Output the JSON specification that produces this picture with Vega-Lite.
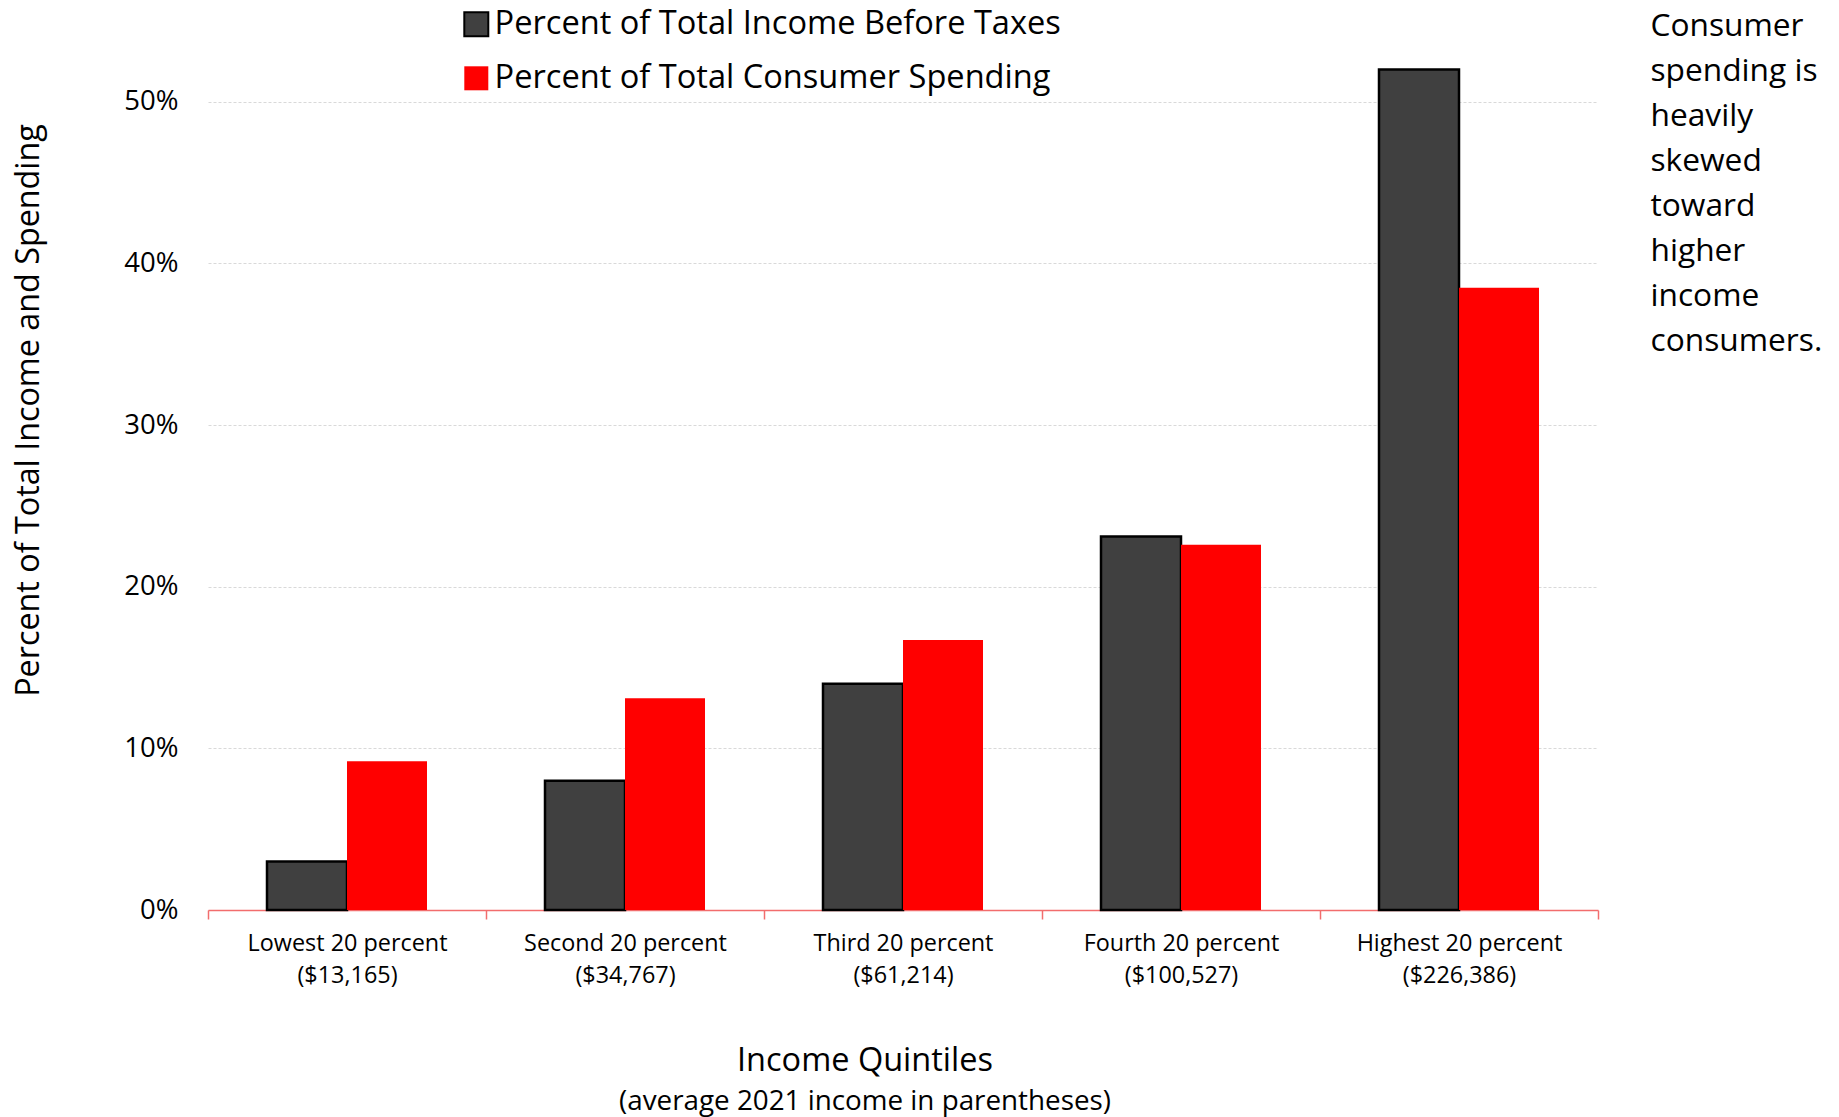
{
  "$schema": "https://vega.github.io/schema/vega-lite/v6.json",
  "autosize": {"type": "none"},
  "width": 1390,
  "height": 889,
  "padding": {"left": 208, "top": 21, "right": 241, "bottom": 207},
  "background": "white",
  "config": {
    "font": "Open Sans",
    "view": {"stroke": null}
  },
  "title": {
    "text": "Income Quintiles",
    "subtitle": "(average 2021 income in parentheses)",
    "orient": "bottom",
    "anchor": "middle",
    "frame": "group",
    "offset": 59,
    "dx": -38,
    "font": "Open Sans",
    "fontSize": 32.5,
    "fontWeight": "normal",
    "color": "#000000",
    "subtitleFont": "Open Sans",
    "subtitleFontSize": 27.8,
    "subtitleColor": "#000000",
    "subtitlePadding": 10
  },
  "data": {
    "values": [
      {"quintile": "Lowest 20 percent ($13,165)", "series": "Percent of Total Income Before Taxes", "share": 0.030},
      {"quintile": "Lowest 20 percent ($13,165)", "series": "Percent of Total Consumer Spending", "share": 0.092},
      {"quintile": "Second 20 percent ($34,767)", "series": "Percent of Total Income Before Taxes", "share": 0.080},
      {"quintile": "Second 20 percent ($34,767)", "series": "Percent of Total Consumer Spending", "share": 0.131},
      {"quintile": "Third 20 percent ($61,214)", "series": "Percent of Total Income Before Taxes", "share": 0.140},
      {"quintile": "Third 20 percent ($61,214)", "series": "Percent of Total Consumer Spending", "share": 0.167},
      {"quintile": "Fourth 20 percent ($100,527)", "series": "Percent of Total Income Before Taxes", "share": 0.231},
      {"quintile": "Fourth 20 percent ($100,527)", "series": "Percent of Total Consumer Spending", "share": 0.226},
      {"quintile": "Highest 20 percent ($226,386)", "series": "Percent of Total Income Before Taxes", "share": 0.520},
      {"quintile": "Highest 20 percent ($226,386)", "series": "Percent of Total Consumer Spending", "share": 0.385}
    ]
  },
  "mark": {"type": "bar", "strokeWidth": 2.5},
  "encoding": {
    "x": {
      "field": "quintile",
      "type": "nominal",
      "sort": null,
      "scale": {"paddingInner": 0, "paddingOuter": 0},
      "axis": {
        "title": ["Consumer", "spending is", "heavily", "skewed", "toward", "higher", "income", "consumers."],
        "titleX": 1442,
        "titleY": -900,
        "titleAlign": "left",
        "titleAnchor": "start",
        "titleBaseline": "top",
        "titleFont": "Open Sans",
        "titleFontSize": 31.7,
        "titleFontWeight": "normal",
        "titleLineHeight": 45,
        "titleColor": "#000000",
        "labelExpr": "split(replace(datum.label, ' (', '|('), '|')",
        "labelAngle": 0,
        "labelFont": "Open Sans",
        "labelFontSize": 23.4,
        "labelLineHeight": 32,
        "labelColor": "#000000",
        "labelPadding": 13,
        "labelLimit": 500,
        "tickBand": "extent",
        "ticks": true,
        "tickSize": 9,
        "tickColor": "#f26d6d",
        "tickWidth": 1.5,
        "domainColor": "#f26d6d",
        "domainWidth": 1.5,
        "grid": false
      }
    },
    "xOffset": {
      "field": "series",
      "type": "nominal",
      "sort": ["Percent of Total Income Before Taxes", "Percent of Total Consumer Spending"],
      "scale": {"paddingInner": 0, "paddingOuter": 0.7375}
    },
    "y": {
      "field": "share",
      "type": "quantitative",
      "scale": {"domain": [0, 0.55], "nice": false, "zero": true},
      "axis": {
        "values": [0, 0.1, 0.2, 0.3, 0.4, 0.5],
        "format": ".0%",
        "title": "Percent of Total Income and Spending",
        "titleAngle": -90,
        "titleX": -170,
        "titleY": 389,
        "titleAlign": "center",
        "titleBaseline": "alphabetic",
        "titleFont": "Open Sans",
        "titleFontSize": 32.3,
        "titleFontWeight": "normal",
        "titleColor": "#000000",
        "labelFont": "Open Sans",
        "labelFontSize": 27.5,
        "labelColor": "#000000",
        "labelPadding": 30,
        "domain": false,
        "ticks": false,
        "grid": true,
        "gridColor": "#d9d9d9",
        "gridDash": [3, 2],
        "gridWidth": 1
      }
    },
    "fill": {
      "field": "series",
      "type": "nominal",
      "scale": {
        "domain": ["Percent of Total Income Before Taxes", "Percent of Total Consumer Spending"],
        "range": ["#404040", "#ff0000"]
      },
      "legend": {
        "title": null,
        "orient": "none",
        "legendX": 252,
        "legendY": -13,
        "direction": "vertical",
        "symbolType": "square",
        "symbolSize": 576,
        "symbolStrokeWidth": 2,
        "labelFont": "Open Sans",
        "labelFontSize": 32.6,
        "labelColor": "#000000",
        "labelOffset": 2,
        "rowPadding": 21,
        "labelLimit": 1000
      }
    },
    "stroke": {
      "field": "series",
      "type": "nominal",
      "scale": {
        "domain": ["Percent of Total Income Before Taxes", "Percent of Total Consumer Spending"],
        "range": ["#000000", "transparent"]
      },
      "legend": {
        "title": null,
        "orient": "none",
        "legendX": 252,
        "legendY": -13,
        "direction": "vertical",
        "symbolType": "square",
        "symbolSize": 576,
        "symbolStrokeWidth": 2,
        "labelFont": "Open Sans",
        "labelFontSize": 32.6,
        "labelColor": "#000000",
        "labelOffset": 2,
        "rowPadding": 21,
        "labelLimit": 1000
      }
    }
  }
}
